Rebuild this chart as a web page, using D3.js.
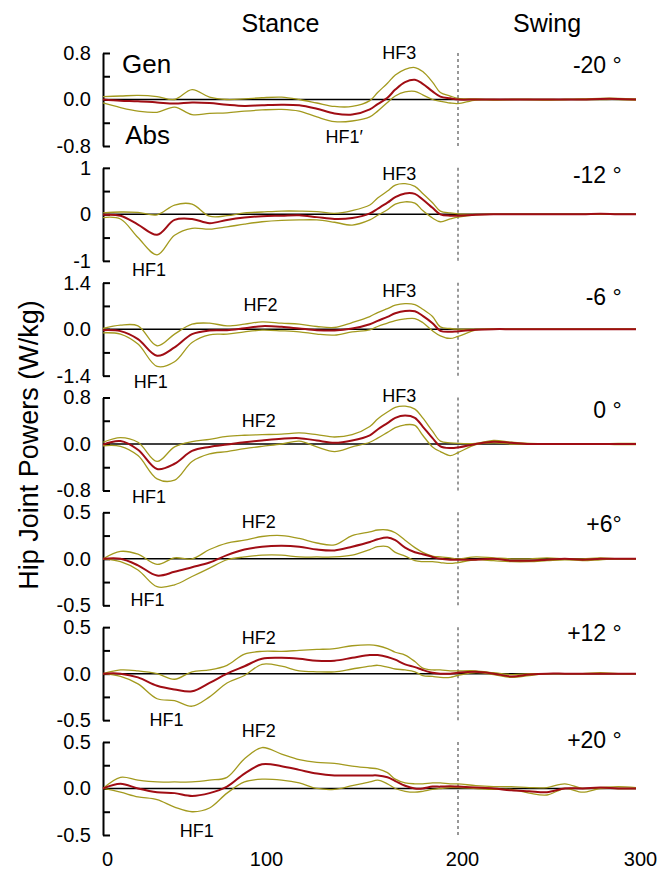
<!DOCTYPE html>
<html>
<head>
<meta charset="utf-8">
<script src="https://cdn.jsdelivr.net/npm/d3@7"></script>
<style>
  body { margin: 0; background: #fff; }
  svg { font-family: "Liberation Sans", Arial, sans-serif; }
</style>
</head>
<body>
<svg id="chart" width="672" height="871"></svg>
<script>
// gait cycle samples: 0-200 stance, 200-300 swing
let cycle = [0,11,22,34,45,56,67,78,89,100,110,119,128,137,146,
  155,159,164,168,173,178,182,187,191,196,200,
  210,220,230,240,250,260,270,280,290,300];

// slope conditions, axis limits and tick labels
let angles = ["-20 °", "-12 °", "-6 °", "0 °", "+6°", "+12 °", "+20 °"];
let limits = [0.8, 1, 1.4, 0.8, 0.5, 0.5, 0.5];
let tickText = [["0.8","0.0","-0.8"], ["1","0","-1"], ["1.4","0.0","-1.4"],
  ["0.8","0.0","-0.8"], ["0.5","0.0","-0.5"], ["0.5","0.0","-0.5"], ["0.5","0.0","-0.5"]];
let xTicks = [0, 100, 200, 300];

// hip power (W/kg): mean, mean+SD, mean-SD
let m20_mean = [0,-0.02,-0.03,-0.05,-0.07,-0.05,-0.06,-0.09,-0.11,-0.1,-0.09,-0.1,-0.16,-0.24,-0.26,
  -0.17,-0.08,0.03,0.17,0.3,0.34,0.27,0.14,0.05,0.02,0.0, 0,0,0,0,0,0,0,0.01,0.01,0];
let m20_hi = [0.05,0.06,0.07,0.05,0.0,0.17,0.04,0.0,0.01,0.03,0.04,0.0,-0.06,-0.12,-0.12,
  -0.02,0.12,0.28,0.42,0.52,0.55,0.48,0.3,0.12,0.06,0.02, 0.01,0,0,0,0,0,0.01,0.02,0.02,0.01];
let m20_lo = [-0.06,-0.14,-0.2,-0.22,-0.13,-0.26,-0.24,-0.23,-0.2,-0.18,-0.17,-0.2,-0.3,-0.38,-0.37,
  -0.3,-0.2,-0.05,0.06,0.13,0.14,0.08,0.0,-0.03,-0.06,-0.07, -0.01,-0.01,0,0,-0.01,0,0,0,0,-0.01];

let m12_mean = [-0.01,-0.03,-0.22,-0.44,-0.12,-0.1,-0.19,-0.12,-0.07,-0.04,-0.03,-0.02,-0.06,-0.1,-0.08,
  0.02,0.12,0.25,0.37,0.45,0.44,0.32,0.14,0.0,-0.03,-0.03, -0.01,0,0,0,0,0,0,0.01,0,0];
let m12_hi = [0.03,0.05,0.04,-0.01,0.2,0.22,-0.04,-0.03,0.03,0.05,0.07,0.07,0.06,0.02,0.08,
  0.2,0.35,0.5,0.63,0.66,0.6,0.45,0.25,0.07,0.03,0.01, 0,0,0,0,0,0,0,0.01,0,0];
let m12_lo = [-0.07,-0.1,-0.5,-0.87,-0.45,-0.3,-0.32,-0.27,-0.21,-0.16,-0.13,-0.12,-0.12,-0.17,-0.23,
  -0.12,-0.02,0.1,0.22,0.27,0.24,0.08,-0.08,-0.16,-0.1,-0.06, -0.01,0,0,0,0,0,0,0,0,0];

let m6_mean = [-0.03,-0.06,-0.3,-0.8,-0.55,-0.15,-0.04,-0.03,0.03,0.09,0.07,0.02,-0.03,-0.04,0.02,
  0.15,0.25,0.37,0.48,0.55,0.54,0.4,0.18,-0.05,-0.08,-0.06, -0.02,0,0,0,0,0,0,0,0,0];
let m6_hi = [0.02,0.12,0.1,-0.5,-0.15,0.15,0.18,0.1,0.15,0.22,0.18,0.15,0.08,0.05,0.2,
  0.38,0.5,0.62,0.72,0.77,0.74,0.6,0.38,0.07,0.02,0.0, 0,0,0,0,0,0,0,0,0,0];
let m6_lo = [-0.11,-0.15,-0.45,-1.12,-0.98,-0.4,-0.17,-0.15,-0.08,-0.03,-0.05,-0.08,-0.15,-0.18,-0.08,
  -0.02,0.08,0.18,0.26,0.31,0.32,0.2,-0.05,-0.2,-0.28,-0.22, -0.03,0,0,0,0,0,0,0,0,0];

let z0_mean = [-0.01,0.05,-0.1,-0.43,-0.34,-0.12,-0.05,-0.01,0.03,0.06,0.09,0.1,0.06,0.02,0.06,
  0.15,0.25,0.36,0.45,0.49,0.45,0.3,0.1,-0.04,-0.07,-0.06, 0.0,0.04,0.02,0,0,0,0,0,0,0];
let z0_hi = [0.03,0.11,0.03,-0.3,-0.05,0.04,0.08,0.13,0.15,0.16,0.17,0.19,0.16,0.12,0.16,
  0.3,0.43,0.55,0.63,0.65,0.6,0.45,0.22,0.05,0.02,0.01, 0.01,0.06,0.03,0.01,0,0,0,0,0.01,0.01];
let z0_lo = [-0.03,-0.04,-0.2,-0.6,-0.62,-0.3,-0.17,-0.13,-0.08,-0.04,0.0,0.05,-0.05,-0.13,-0.05,
  0.03,0.1,0.2,0.28,0.33,0.32,0.15,-0.05,-0.13,-0.2,-0.15, -0.01,0.02,0.0,0,0,0,0,0,-0.01,-0.01];

let p6_mean = [0,0.0,-0.07,-0.18,-0.14,-0.09,-0.04,0.04,0.1,0.13,0.14,0.13,0.1,0.09,0.13,
  0.18,0.21,0.23,0.2,0.12,0.07,0.05,0.02,0.0,-0.01,-0.01, -0.01,0,-0.02,-0.02,-0.01,0,-0.01,0,0,0];
let p6_hi = [0,0.08,0.05,-0.06,0.01,0.0,0.1,0.17,0.2,0.24,0.25,0.22,0.17,0.15,0.25,
  0.29,0.31,0.31,0.28,0.2,0.12,0.07,0.03,0.02,0.01,0.0, 0.02,0.01,0,0,0.01,0,0,0.01,0,0];
let p6_lo = [0,-0.03,-0.12,-0.3,-0.28,-0.19,-0.1,-0.01,0.02,0.04,0.04,0.02,0.02,0.02,0.04,
  0.1,0.13,0.13,0.07,0.03,-0.02,-0.03,-0.03,-0.04,-0.05,-0.04, -0.01,-0.02,-0.03,-0.03,-0.02,-0.01,-0.02,-0.01,0,0];

let p12_mean = [0,0.0,-0.04,-0.13,-0.17,-0.19,-0.1,0.0,0.08,0.16,0.17,0.16,0.14,0.14,0.17,
  0.2,0.2,0.18,0.15,0.1,0.07,0.04,0.01,0.0,0.0,0.01, 0.02,0.0,-0.03,-0.01,0,0,0,0,0,0];
let p12_hi = [0,0.04,0.03,0.0,-0.06,0.02,0.04,0.09,0.21,0.24,0.24,0.25,0.26,0.27,0.3,
  0.31,0.3,0.27,0.23,0.2,0.13,0.06,0.04,0.04,0.03,0.03, 0.03,0.01,-0.01,0,0,0,0,0.01,0,0];
let p12_lo = [0,-0.03,-0.11,-0.27,-0.29,-0.35,-0.25,-0.1,-0.02,0.1,0.08,0.03,0.02,0.02,0.05,
  0.08,0.09,0.07,0.05,0.04,0.02,-0.02,-0.03,-0.04,-0.04,-0.02, 0.01,-0.01,-0.04,-0.02,0,0,0,0,0,0];

let p20_mean = [0,0.05,0.0,-0.04,-0.05,-0.08,-0.05,0.02,0.16,0.26,0.24,0.2,0.16,0.14,0.14,
  0.14,0.14,0.12,0.08,0.03,0.0,0.0,0.02,0.02,0.025,0.02, 0.01,0.0,-0.02,-0.03,-0.04,0.0,0,0.01,0,0];
let p20_hi = [0,0.12,0.09,0.07,0.07,0.07,0.09,0.12,0.32,0.44,0.37,0.31,0.28,0.27,0.24,
  0.22,0.21,0.17,0.1,0.06,0.05,0.05,0.06,0.06,0.05,0.05, 0.03,0.02,0.02,0.01,0.01,0.05,0.0,0.01,0.02,0.01];
let p20_lo = [0,-0.04,-0.09,-0.12,-0.2,-0.25,-0.21,-0.05,0.07,0.1,0.09,0.06,0.0,-0.01,0.03,
  0.07,0.09,0.05,0.0,-0.03,-0.04,-0.03,-0.01,0.0,0.01,0.01, 0.0,-0.01,-0.01,-0.05,-0.07,0.0,-0.04,0,0,0];

let means = [m20_mean, m12_mean, m6_mean, z0_mean, p6_mean, p12_mean, p20_mean];
let highs = [m20_hi, m12_hi, m6_hi, z0_hi, p6_hi, p12_hi, p20_hi];
let lows  = [m20_lo, m12_lo, m6_lo, z0_lo, p6_lo, p12_lo, p20_lo];

// in-panel notes: [panel, text, cycle position, power value, anchor]
let notes = [
  [0, "Gen", 12, 0.45, "start"], [0, "Abs", 14, -0.77, "start"],
  [0, "HF3", 170, 0.705, "middle"], [0, "HF1\u2032", 142, -0.74, "middle"],
  [1, "HF3", 170, 0.74, "middle"], [1, "HF1", 29, -1.32, "middle"],
  [2, "HF2", 99, 0.54, "middle"], [2, "HF3", 170, 0.96, "middle"], [2, "HF1", 30, -1.78, "middle"],
  [3, "HF2", 98, 0.29, "middle"], [3, "HF3", 170, 0.72, "middle"], [3, "HF1", 29, -1.01, "middle"],
  [4, "HF2", 98, 0.33, "middle"], [4, "HF1", 28, -0.51, "middle"],
  [5, "HF2", 98, 0.32, "middle"], [5, "HF1", 40, -0.56, "middle"],
  [6, "HF2", 98, 0.55, "middle"], [6, "HF1", 59, -0.52, "middle"]
];
// baseline of the slope label in each panel (power units)
let angleY = [0.46, 0.68, 0.72, 0.45, 0.29, 0.35, 0.43];

const svg = d3.select("#chart");
const top0 = 53, step = 114.83, ph = 93;
const meanColor = "#a00d14", sdColor = "#a39a1e";

// the printed axis is not evenly spaced between its labels
let x = d3.scaleLinear().domain([0, 100, 200, 300]).range([103, 262, 458, 636]);

// phase titles, centred over each phase
svg.append("text").attr("x", (x(0) + x(200)) / 2).attr("y", 32).attr("text-anchor", "middle")
  .attr("font-size", 25).text("Stance");
svg.append("text").attr("x", (x(200) + x(300)) / 2).attr("y", 32).attr("text-anchor", "middle")
  .attr("font-size", 25).text("Swing");

// y axis title
svg.append("text").attr("transform", "translate(38,445) rotate(-90)")
  .attr("text-anchor", "middle").attr("font-size", 27).text("Hip Joint Powers (W/kg)");

for(let i=0; i<angles.length; i++) {
  let lim = limits[i]
    , top = top0 + i*step
    , y = d3.scaleLinear().domain([-lim, lim]).range([top + ph, top])
    , g = svg.append("g");

  // left axis, ticks pointing inward
  let ax = d3.axisLeft(y)
    .tickValues([-lim, -lim/2, 0, lim/2, lim])
    .tickSizeInner(-7).tickSizeOuter(0).tickPadding(12)
    .tickFormat((d, j) => j % 2 == 0 ? tickText[i][2 - j/2] : "");
  let ag = g.append("g").attr("transform", "translate(" + x(0) + ",0)").call(ax);
  ag.attr("font-family", null).attr("font-size", 20);
  ag.selectAll("path, line").attr("stroke", "#000").attr("stroke-width", 2);
  ag.selectAll("text").attr("fill", "#000");

  // zero line
  g.append("line").attr("x1", x(0)).attr("x2", x(300))
    .attr("y1", y(0)).attr("y2", y(0))
    .attr("stroke", "#000").attr("stroke-width", 1.5);

  // stance / swing boundary
  g.append("line").attr("x1", x(200)).attr("x2", x(200))
    .attr("y1", y(lim)).attr("y2", y(-lim))
    .attr("stroke", "#777").attr("stroke-width", 1.5).attr("stroke-dasharray", "3,3");

  let line = d3.line()
    .x((d, k) => x(cycle[k]))
    .y(d => y(d))
    .curve(d3.curveCatmullRom.alpha(0.5));

  for(let s of [highs[i], lows[i]]) {
    g.append("path").datum(s).attr("d", line)
      .attr("fill", "none").attr("stroke", sdColor).attr("stroke-width", 1.3);
  }
  g.append("path").datum(means[i]).attr("d", line)
    .attr("fill", "none").attr("stroke", meanColor).attr("stroke-width", 2);

  // slope label
  g.append("text").attr("x", x(292)).attr("y", y(angleY[i]))
    .attr("text-anchor", "end").attr("font-size", 23).text(angles[i]);

  // peak labels
  for(let n of notes.filter(n => n[0] == i)) {
    let big = n[1] == "Gen" || n[1] == "Abs";
    g.append("text").attr("x", x(n[2])).attr("y", y(n[3]))
      .attr("text-anchor", n[4]).attr("font-size", big ? 26 : 18).text(n[1]);
  }
}

// bottom axis labels only
let bottom = top0 + 6*step + ph;
let xa = svg.append("g").attr("transform", "translate(0," + bottom + ")")
  .call(d3.axisBottom(x).tickValues(xTicks).tickSize(0).tickPadding(17));
xa.attr("font-family", null).attr("font-size", 20);
xa.select(".domain").remove();
xa.selectAll("text").attr("fill", "#000").attr("dx", 4);
</script>
</body>
</html>
